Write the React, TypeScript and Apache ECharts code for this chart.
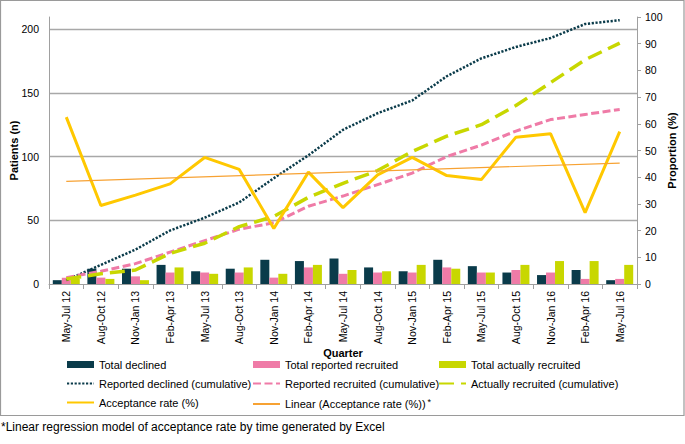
import React, { useEffect, useRef } from "react";
import * as echarts from "echarts";

const categories = [
  "May-Jul 12", "Aug-Oct 12", "Nov-Jan 13", "Feb-Apr 13", "May-Jul 13", "Aug-Oct 13",
  "Nov-Jan 14", "Feb-Apr 14", "May-Jul 14", "Aug-Oct 14", "Nov-Jan 15", "Feb-Apr 15",
  "May-Jul 15", "Aug-Oct 15", "Nov-Jan 16", "Feb-Apr 16", "May-Jul 16",
];
const totalDeclined = [3, 12, 12, 15, 10, 12, 19, 18, 20, 13, 10, 19, 14, 9, 7, 11, 3];
const totalReportedRecruited = [5, 5, 6, 9, 9, 9, 5, 13, 8, 9, 9, 13, 9, 11, 9, 4, 4];
const totalActuallyRecruited = [4, 4, 3, 13, 8, 13, 8, 15, 11, 10, 15, 12, 9, 15, 18, 18, 15];
const reportedDeclinedCum = [3, 15, 27, 42, 52, 64, 83, 101, 121, 134, 144, 163, 177, 186, 193, 204, 207];
const reportedRecruitedCum = [5, 10, 16, 25, 34, 43, 48, 61, 69, 78, 87, 100, 109, 120, 129, 133, 137];
const actuallyRecruitedCum = [4, 8, 11, 24, 32, 45, 53, 68, 79, 89, 104, 116, 125, 140, 158, 176, 189];
const acceptanceRate = [62.5, 29.4, 33.3, 37.5, 47.4, 42.9, 20.8, 41.9, 28.6, 40.9, 47.4, 40.6, 39.1, 55.0, 56.3, 26.7, 57.1];
const linearTrendEnds = [38.4, 45.3];
const leftTicks = [0, 50, 100, 150, 200];
const rightTicks = [0, 10, 20, 30, 40, 50, 60, 70, 80, 90, 100];

const FONT = "'Liberation Sans', Arial, sans-serif";
const C_DARK = "#0a3b4a";
const C_PINK = "#ef7ba7";
const C_GREEN = "#c8d700";
const C_YELLOW = "#ffc800";
const C_ORANGE = "#f7a233";
const LINEAR_NAME = "Linear (Acceptance rate (%))";

export default function App() {
  const ref = useRef<HTMLDivElement>(null);
  useEffect(() => {
    document.body.style.margin = "0";
    if (!ref.current) return;
    const chart = echarts.init(ref.current, undefined, { renderer: "svg" });
    const lineItem = (name: string) => ({ name, itemStyle: { opacity: 0 } });
    const legendBase = {
      orient: "vertical",
      top: 354,
      itemWidth: 27,
      itemHeight: 7,
      itemGap: 8,
      selectedMode: false,
      textStyle: {
        fontSize: 11,
        lineHeight: 11,
        color: "#000",
        fontFamily: FONT,
        rich: { sup: { fontSize: 9, lineHeight: 11, color: "#000", fontFamily: FONT, padding: [0, 0, 5, 2] } },
      },
      formatter: (n: string) => (n === LINEAR_NAME ? n + "{sup|*}" : n),
    };
    chart.setOption({
      animation: false,
      textStyle: { fontFamily: FONT },
      grid: { left: 48, right: 45, top: 17, bottom: 160 },
      legend: [
        { ...legendBase, left: 61, data: [{ name: "Total declined", icon: "rect" }, lineItem("Reported declined (cumulative)"), lineItem("Acceptance rate (%)")] },
        { ...legendBase, left: 247, data: [{ name: "Total reported recruited", icon: "rect" }, lineItem("Reported recruited (cumulative)"), lineItem(LINEAR_NAME)] },
        { ...legendBase, left: 433, data: [{ name: "Total actually recruited", icon: "rect" }, lineItem("Actually recruited (cumulative)")] },
      ],
      xAxis: {
        type: "category",
        data: categories,
        name: "Quarter",
        nameLocation: "middle",
        nameGap: 63,
        nameMoveOverlap: false,
        nameTextStyle: { fontWeight: "bold", fontSize: 11, lineHeight: 11, color: "#000", fontFamily: FONT },
        axisLine: { lineStyle: { color: "#a0a0a0", width: 1 } },
        axisTick: { show: true, length: 5, lineStyle: { color: "#a0a0a0" } },
        axisLabel: { rotate: 90, interval: 0, fontSize: 10.5, color: "#000", margin: 7, fontFamily: FONT },
      },
      yAxis: [
        {
          type: "value",
          min: 0,
          max: 209.5,
          interval: 50,
          name: "Patients (n)",
          nameLocation: "middle",
          nameGap: 30,
          nameMoveOverlap: false,
          nameTextStyle: { fontWeight: "bold", fontSize: 11, color: "#000", fontFamily: FONT },
          axisLine: { show: true, lineStyle: { color: "#a0a0a0", width: 1 } },
          axisTick: { show: false },
          axisLabel: {
            fontSize: 10.5,
            color: "#000",
            margin: 10,
            fontFamily: FONT,
            showMaxLabel: false,
            formatter: (v: number) => (leftTicks.includes(v) ? String(v) : ""),
          },
          splitLine: { show: true, showMinLine: false, showMaxLine: false, lineStyle: { color: "#a8a8a8", width: 1.3 } },
        },
        {
          type: "value",
          min: 0,
          max: 100,
          interval: 10,
          name: "Proportion (%)",
          nameLocation: "middle",
          nameGap: 29,
          nameMoveOverlap: false,
          nameTextStyle: { fontWeight: "bold", fontSize: 11, color: "#000", fontFamily: FONT },
          axisLine: { show: true, lineStyle: { color: "#a0a0a0", width: 1 } },
          axisTick: { show: true, length: 4, lineStyle: { color: "#a0a0a0" } },
          axisLabel: {
            fontSize: 10.5,
            color: "#000",
            margin: 8,
            fontFamily: FONT,
            formatter: (v: number) => (rightTicks.includes(v) ? String(v) : ""),
          },
          splitLine: { show: false },
        },
      ],
      series: [
        { name: "Total declined", type: "bar", data: totalDeclined, barWidth: 9, barGap: "0%", itemStyle: { color: C_DARK }, z: 2 },
        { name: "Total reported recruited", type: "bar", data: totalReportedRecruited, barWidth: 9, barGap: "0%", itemStyle: { color: C_PINK }, z: 2 },
        { name: "Total actually recruited", type: "bar", data: totalActuallyRecruited, barWidth: 9, barGap: "0%", itemStyle: { color: C_GREEN }, z: 2 },
        {
          name: "Reported declined (cumulative)", type: "line", data: reportedDeclinedCum, symbol: "none",
          lineStyle: { color: C_DARK, width: 2.5, type: [2.2, 1.6] }, itemStyle: { color: C_DARK }, z: 3,
        },
        {
          name: "Reported recruited (cumulative)", type: "line", data: reportedRecruitedCum, symbol: "none",
          lineStyle: { color: C_PINK, width: 3, type: [8, 3.5] }, itemStyle: { color: C_PINK }, z: 3,
        },
        {
          name: "Actually recruited (cumulative)", type: "line", data: actuallyRecruitedCum, symbol: "none",
          lineStyle: { color: C_GREEN, width: 3.5, type: [15, 7] }, itemStyle: { color: C_GREEN }, z: 3,
        },
        {
          name: "Acceptance rate (%)", type: "line", yAxisIndex: 1, data: acceptanceRate, symbol: "none",
          lineStyle: { color: C_YELLOW, width: 3 }, itemStyle: { color: C_YELLOW }, z: 4,
        },
        {
          name: LINEAR_NAME, type: "line", yAxisIndex: 1,
          data: [[0, linearTrendEnds[0]], [categories.length - 1, linearTrendEnds[1]]],
          symbol: "none", lineStyle: { color: C_ORANGE, width: 1.2 }, itemStyle: { color: C_ORANGE }, z: 5,
        },
      ],
      graphic: [
        {
          type: "rect", silent: true, z: -10,
          shape: { x: 0.5, y: 0.5, width: 683.5, height: 415 },
          style: { fill: "transparent", stroke: "#9a9a9a", lineWidth: 1.2 },
        },
        {
          type: "text", silent: true,
          style: {
            x: 1, y: 427, text: "*Linear regression model of acceptance rate by time generated by Excel",
            fontSize: 12, fontFamily: FONT, fill: "#000", verticalAlign: "middle",
          },
        },
      ],
    });
    return () => chart.dispose();
  }, []);
  return <div ref={ref} style={{ width: 685, height: 444 }} />;
}
